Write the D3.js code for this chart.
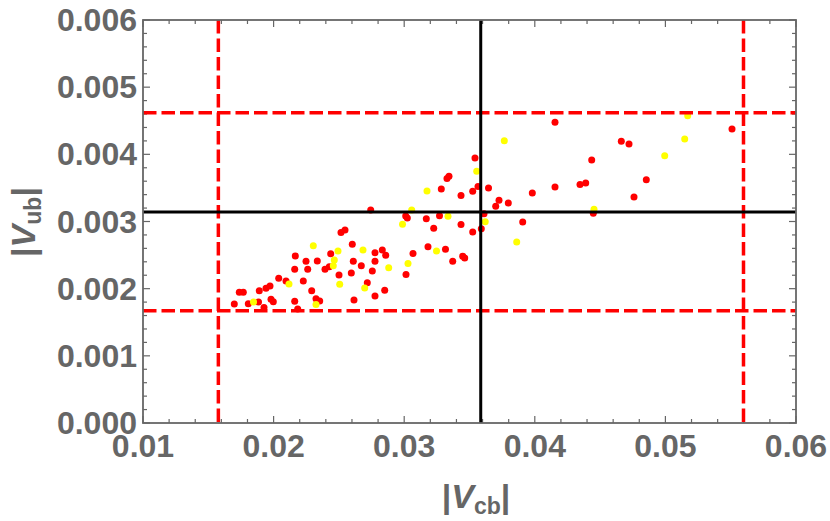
<!DOCTYPE html>
<html>
<head>
<meta charset="utf-8">
<script src="https://cdn.jsdelivr.net/npm/d3@7"></script>
<style>
  html, body { margin: 0; padding: 0; background: #fff; }
  svg { display: block; }
  text { font-family: "Liberation Sans", Arial, sans-serif; font-weight: bold; fill: #666; }
</style>
</head>
<body>
<svg id="chart" width="830" height="521"></svg>
<script>
// ---- data (|Vcb|, |Vub|) ----
const redVcb = [0.02516,0.025467,0.026026,0.027764,0.028323,0.028584,0.021662,0.022481,0.023346,0.024372,
  0.024265,0.023936,0.026103,0.026715,0.027764,0.021616,0.022611,0.025008,0.02595,0.027558,
  0.020391,0.02095,0.022274,0.027175,0.019724,0.019418,0.018905,0.022917,0.028507,0.017374,
  0.01768,0.027764,0.019801,0.019977,0.018844,0.023247,0.02353,0.021616,0.026156,0.016991,
  0.018063,0.019265,0.021845,
  0.035421,0.03343,0.033277,0.032841,0.03435,0.035245,0.035651,0.036455,0.037259,0.037006,
  0.037971,0.039809,0.041547,0.043461,0.043898,0.04448,0.027435,0.030115,0.030238,0.031692,
  0.032703,0.03435,0.036111,0.035904,0.035245,0.032259,0.039074,0.031822,0.033162,0.030674,
  0.03448,0.034633,0.033714,0.030138,0.041547,0.044357,0.046624,0.047213,0.048538,0.047596,0.0551];
const redVub = [0.002836,0.002873,0.002661,0.002535,0.002576,0.002497,0.002486,0.002407,0.002412,0.002521,
  0.002327,0.002288,0.002407,0.002342,0.002407,0.002288,0.002288,0.002203,0.002233,0.002263,
  0.002154,0.002114,0.002114,0.002089,0.00204,0.002005,0.00197,0.00197,0.001976,0.001946,
  0.001946,0.001891,0.001842,0.001806,0.001801,0.001851,0.001816,0.001812,0.001831,0.001772,
  0.001776,0.00172,0.001697,
  0.003945,0.003673,0.00364,0.003484,0.003387,0.003451,0.003521,0.003499,0.003316,0.003226,
  0.003275,0.003424,0.003514,0.003551,0.003573,0.003122,0.003171,0.003082,0.003052,0.003042,
  0.003086,0.002955,0.003116,0.002891,0.002844,0.002899,0.002993,0.002625,0.002586,0.002524,
  0.002483,0.002457,0.002409,0.002211,0.004477,0.003916,0.004194,0.004154,0.003622,0.003365,0.004377];
const yellowVcb = [0.02304,0.024931,0.026845,0.024648,0.024571,0.028813,0.021179,0.025061,0.026975,0.018461,
  0.023247,0.035552,0.031746,0.037665,0.030574,0.033354,0.02987,0.036203,0.038615,0.032473,
  0.030291,0.044533,0.049947,0.051478,0.051708];
const yellowVub = [0.00264,0.002561,0.002576,0.002427,0.002342,0.002312,0.00207,0.002065,0.00201,0.001801,
  0.001764,0.003747,0.003454,0.004203,0.003171,0.003077,0.002958,0.002996,0.002695,0.002561,
  0.002375,0.003183,0.00398,0.004228,0.004575];

// reference lines
const centralVcb = 0.03586, centralVub = 0.00314;
const boundVcb = [0.01577, 0.05598];
const boundVub = [0.00167, 0.00462];

// ticks
const xDomain = [0.01, 0.06], yDomain = [0, 0.006];
const xMajor = [0.01, 0.02, 0.03, 0.04, 0.05, 0.06];
const xTickLabels = ["0.01", "0.02", "0.03", "0.04", "0.05", "0.06"];
const yMajor = [0, 0.001, 0.002, 0.003, 0.004, 0.005, 0.006];
const yTickLabels = ["0.000", "0.001", "0.002", "0.003", "0.004", "0.005", "0.006"];

// ---- drawing ----
const svg = d3.select("#chart");
const L = 143, R = 796, T = 20, B = 423;
const x = d3.scaleLinear().domain(xDomain).range([L, R]);
const y = d3.scaleLinear().domain(yDomain).range([B, T]);
const gray = "#666";

const xMinor = d3.range(0, 26).map(i => 0.01 + i * 0.002);
const yMinor = d3.range(0, 31).map(i => i * 0.0002);
const isMajor = (v, arr) => arr.some(a => Math.abs(a - v) < 1e-9);

const g = svg.append("g");
// minor & major ticks (inward on all four sides)
xMinor.forEach(v => {
  const len = isMajor(v, xMajor) ? 7 : 4;
  g.append("line").attr("x1", x(v)).attr("x2", x(v)).attr("y1", B).attr("y2", B - len)
    .attr("stroke", gray).attr("stroke-width", 1.2);
  g.append("line").attr("x1", x(v)).attr("x2", x(v)).attr("y1", T).attr("y2", T + len)
    .attr("stroke", gray).attr("stroke-width", 1.2);
});
yMinor.forEach(v => {
  const len = isMajor(v, yMajor) ? 7 : 4;
  g.append("line").attr("y1", y(v)).attr("y2", y(v)).attr("x1", L).attr("x2", L + len)
    .attr("stroke", gray).attr("stroke-width", 1.2);
  g.append("line").attr("y1", y(v)).attr("y2", y(v)).attr("x1", R).attr("x2", R - len)
    .attr("stroke", gray).attr("stroke-width", 1.2);
});

// points
const redPts = redVcb.map((v, i) => [v, redVub[i]]);
const yellowPts = yellowVcb.map((v, i) => [v, yellowVub[i]]);
svg.append("g").selectAll("circle").data(redPts).join("circle")
  .attr("cx", d => x(d[0])).attr("cy", d => y(d[1])).attr("r", 3.5).attr("fill", "#ff0000");
svg.append("g").selectAll("circle").data(yellowPts).join("circle")
  .attr("cx", d => x(d[0])).attr("cy", d => y(d[1])).attr("r", 3.5).attr("fill", "#ffff00");

// dashed bounds
const lines = svg.append("g");
boundVcb.forEach(v => lines.append("line").attr("x1", x(v)).attr("x2", x(v)).attr("y1", T).attr("y2", B)
  .attr("stroke", "#ff0000").attr("stroke-width", 3.5).attr("stroke-dasharray", "13.5,5"));
boundVub.forEach(v => lines.append("line").attr("x1", L).attr("x2", R).attr("y1", y(v)).attr("y2", y(v))
  .attr("stroke", "#ff0000").attr("stroke-width", 3.5).attr("stroke-dasharray", "13.5,5"));
// central values
lines.append("line").attr("x1", x(centralVcb)).attr("x2", x(centralVcb)).attr("y1", T).attr("y2", B)
  .attr("stroke", "#000").attr("stroke-width", 3);
lines.append("line").attr("x1", L).attr("x2", R).attr("y1", y(centralVub)).attr("y2", y(centralVub))
  .attr("stroke", "#000").attr("stroke-width", 3);

// frame
svg.append("rect").attr("x", L).attr("y", T).attr("width", R - L).attr("height", B - T)
  .attr("fill", "none").attr("stroke", gray).attr("stroke-width", 1.8);

// tick labels
const lab = svg.append("g");
xMajor.forEach((v, i) => lab.append("text").attr("x", x(v)).attr("y", 457)
  .attr("text-anchor", "middle").attr("font-size", 32).text(xTickLabels[i]));
yMajor.forEach((v, i) => lab.append("text").attr("x", 137).attr("y", y(v) + 11)
  .attr("text-anchor", "end").attr("font-size", 32).text(yTickLabels[i]));

// axis titles
const xt = svg.append("text").attr("x", 476).attr("y", 508).attr("text-anchor", "middle").attr("font-size", 34);
xt.append("tspan").text("|");
xt.append("tspan").attr("font-style", "italic").text("V");
xt.append("tspan").attr("font-size", 23).attr("dy", 6).text("cb");
xt.append("tspan").attr("dy", -6).text("|");

const yt = svg.append("text").attr("transform", "translate(35,222) rotate(-90)")
  .attr("text-anchor", "middle").attr("font-size", 34);
yt.append("tspan").text("|");
yt.append("tspan").attr("font-style", "italic").text("V");
yt.append("tspan").attr("font-size", 23).attr("dy", 6).text("ub");
yt.append("tspan").attr("dy", -6).text("|");
</script>
</body>
</html>
